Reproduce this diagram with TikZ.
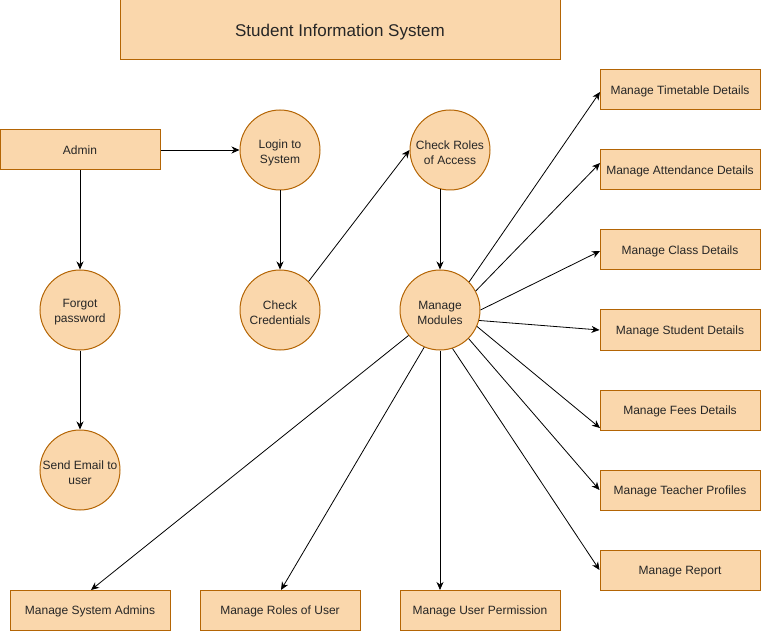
\documentclass[tikz,border=0pt]{standalone}
\usepackage{fontspec}
\setmainfont{Liberation Sans}
\usetikzlibrary{arrows.meta}
\definecolor{fillor}{HTML}{FAD7AC}
\definecolor{lineor}{HTML}{B46504}
\begin{document}
\begin{tikzpicture}[x=1pt,y=-1pt,
  box/.style={draw=lineor,fill=fillor,line width=1pt,minimum width=160pt,minimum height=40pt,inner sep=0pt,font=\fontsize{12}{15}\selectfont,text=black!85,text height=11pt,text depth=1.8pt},
  proc/.style={draw=lineor,fill=fillor,line width=1pt,circle,minimum size=80pt,inner sep=0pt},
  ptext/.style={inner sep=0pt,align=center,font=\fontsize{12}{15}\selectfont,text=black!85},
  flow/.style={line width=0.8pt,-{Stealth[length=8pt,width=7pt,inset=2.5pt]}}]
\useasboundingbox (0,0) rectangle (761,631);
% title
\node[box,minimum width=440pt,minimum height=60pt,font=\fontsize{17}{20}\selectfont,text height=14.5pt,text depth=2pt] (title) at (340,30) {Student Information System};
% left column
\node[box] (admin) at (80,150) {Admin};
\node[proc] (forgot) at (80,310) {};
\node[ptext] (forgot-t) at ([yshift=-2.5pt]forgot.center) {Forgot\\password};
\node[proc] (email) at (80,470) {};
\node[ptext] (email-t) at ([yshift=-2.5pt]email.center) {Send Email to\\user};
\node[proc] (login) at (280,150) {};
\node[ptext] (login-t) at ([yshift=-2.5pt]login.center) {Login to\\System};
\node[proc] (cred) at (280,310) {};
\node[ptext] (cred-t) at ([yshift=-2.5pt]cred.center) {Check\\Credentials};
\node[proc] (roles) at (450,150) {};
\node[ptext] (roles-t) at ([yshift=-2.5pt]roles.center) {Check Roles\\of Access};
\node[proc] (mm) at (440,310) {};
\node[ptext] (mm-t) at ([yshift=-2.5pt]mm.center) {Manage\\Modules};
% right boxes
\node[box] (tt) at (680,90) {Manage Timetable Details};
\node[box] (att) at (680,170) {Manage Attendance Details};
\node[box] (cls) at (680,250) {Manage Class Details};
\node[box] (stu) at (680,330) {Manage Student Details};
\node[box] (fee) at (680,410) {Manage Fees Details};
\node[box] (tea) at (680,490) {Manage Teacher Profiles};
\node[box] (rep) at (680,570) {Manage Report};
% bottom boxes
\node[box] (sa) at (90,610) {Manage System Admins};
\node[box] (ru) at (280,610) {Manage Roles of User};
\node[box] (up) at (480,610) {Manage User Permission};
% target points
\coordinate (ttin) at (600,92);
\coordinate (attin) at (600,163);
\coordinate (clsin) at (600,251);
\coordinate (feein) at (600,428);
\coordinate (sain) at (91,590);
\coordinate (ruin) at (281,590);
\coordinate (upin) at (440,590);
\coordinate (rolesout) at (440,188.7);
% connectors
\draw[flow] (admin.east) -- (login.west);
\draw[flow] (admin.south) -- (forgot.north);
\draw[flow] (forgot.south) -- (email.north);
\draw[flow] (login.south) -- (cred.north);
\draw[flow] (cred.45) -- (roles.west);
\draw[flow] (rolesout) -- (mm.north);
\draw[flow] (mm.44) -- (ttin);
\draw[flow] (mm.28) -- (attin);
\draw[flow] (mm.0) -- (clsin);
\draw[flow] (mm.-15) -- (stu.west);
\draw[flow] (mm.-24) -- (feein);
\draw[flow] (mm.-45) -- (tea.west);
\draw[flow] (mm.-72) -- (rep.west);
\draw[flow] (mm.south) -- (upin);
\draw[flow] (mm.-113) -- (ruin);
\draw[flow] (mm.-141) -- (sain);
\end{tikzpicture}
\end{document}
